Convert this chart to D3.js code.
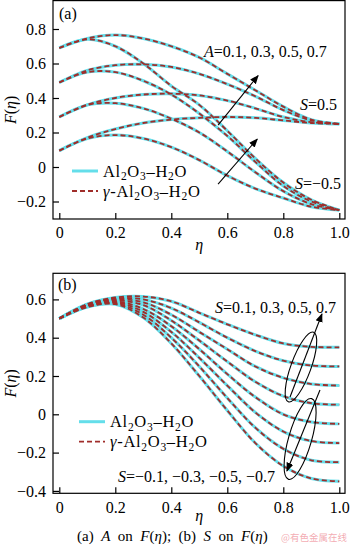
<!DOCTYPE html>
<head>
    <meta charset="UTF-8">
    <script src="https://d3js.org/d3.v7.min.js"></script>
    <style>
        body { margin: 0; background: white; }
        svg { font-family: "Liberation Serif", "DejaVu Serif", serif; }
        .tick text { font-size: 16px; font-family: "Liberation Serif", serif; }
        .frame { fill: none; stroke: black; stroke-width: 1.2px; }
        .cyan { fill: none; stroke: rgb(100, 222, 234); stroke-width: 3px; }
        .red { fill: none; stroke: rgb(160, 45, 42); stroke-width: 1.8px; stroke-dasharray: 5, 3; }
        .note { font-size: 16px; }
        .leg { font-size: 16.5px; letter-spacing: 0.7px; }
        .pre { white-space: pre; }
    </style>
</head>
<body>
    <div id="viz"></div>
    <script>
        // eta grid shared by every curve
        const eta = [0, 0.1, 0.2, 0.3, 0.4, 0.5, 0.6, 0.7, 0.8, 0.9, 1.0];

        // panel (a): A = 0.1, 0.3, 0.5, 0.7
        const aValues = [0.1, 0.3, 0.5, 0.7];
        // S = 0.5
        const aPosS = [
            [0.095, 0.17, 0.22, 0.255, 0.275, 0.285, 0.29, 0.285, 0.27, 0.255, 0.25],
            [0.29, 0.36, 0.40, 0.42, 0.425, 0.415, 0.385, 0.34, 0.29, 0.26, 0.25],
            [0.49, 0.56, 0.59, 0.595, 0.58, 0.54, 0.48, 0.41, 0.33, 0.27, 0.25],
            [0.69, 0.745, 0.765, 0.745, 0.70, 0.635, 0.54, 0.445, 0.35, 0.275, 0.25]
        ];
        // S = -0.5
        const aNegS = [
            [0.095, 0.165, 0.185, 0.165, 0.115, 0.04, -0.05, -0.125, -0.18, -0.23, -0.25],
            [0.29, 0.36, 0.37, 0.34, 0.28, 0.20, 0.09, -0.03, -0.14, -0.215, -0.25],
            [0.49, 0.55, 0.55, 0.50, 0.42, 0.31, 0.18, 0.03, -0.11, -0.20, -0.25],
            [0.69, 0.74, 0.70, 0.60, 0.47, 0.36, 0.21, 0.05, -0.09, -0.19, -0.25]
        ];

        // panel (b): S = 0.7 ... -0.7 (A = 0.5)
        const bValues = [0.7, 0.5, 0.3, 0.1, -0.1, -0.3, -0.5, -0.7];
        const bCurves = [
            [0.5, 0.575, 0.61, 0.615, 0.59, 0.53, 0.47, 0.415, 0.37, 0.352, 0.35],
            [0.5, 0.575, 0.605, 0.60, 0.555, 0.48, 0.40, 0.33, 0.28, 0.255, 0.25],
            [0.5, 0.572, 0.60, 0.585, 0.52, 0.43, 0.34, 0.25, 0.19, 0.158, 0.15],
            [0.5, 0.57, 0.595, 0.57, 0.49, 0.385, 0.275, 0.17, 0.095, 0.058, 0.05],
            [0.5, 0.567, 0.59, 0.55, 0.46, 0.34, 0.21, 0.09, 0.0, -0.04, -0.05],
            [0.5, 0.565, 0.585, 0.535, 0.43, 0.295, 0.15, 0.01, -0.09, -0.14, -0.15],
            [0.5, 0.562, 0.58, 0.52, 0.40, 0.25, 0.085, -0.07, -0.18, -0.24, -0.25],
            [0.5, 0.56, 0.575, 0.505, 0.37, 0.20, 0.02, -0.15, -0.27, -0.335, -0.35]
        ];

        const xTicks = [0, 0.2, 0.4, 0.6, 0.8, 1.0];
        const aYTicks = [-0.2, 0, 0.2, 0.4, 0.6, 0.8];
        const bYTicks = [-0.4, -0.2, 0, 0.2, 0.4, 0.6];

        const width = 350, height = 548;
        const svg = d3.select('#viz').append('svg')
            .attr('width', width)
            .attr('height', height);

        svg.append('defs').append('marker')
            .attr('id', 'head')
            .attr('viewBox', '0 0 10 10')
            .attr('refX', 9).attr('refY', 5)
            .attr('markerWidth', 9).attr('markerHeight', 9)
            .attr('markerUnits', 'userSpaceOnUse')
            .attr('orient', 'auto')
            .append('path')
            .attr('d', 'M0,1 L10,5 L0,9 Z')
            .attr('fill', 'black');

        const fmt = d => d === 0 ? '0' : d3.format('.1f')(d);
        const x = d3.scaleLinear().domain([0, 1]).range([59.3, 339.3]);

        function panel(box, y, yTicks) {
            const g = svg.append('g');
            g.append('g')
                .attr('transform', `translate(0,${box.bottom})`)
                .call(d3.axisBottom(x).tickValues(xTicks).tickFormat(fmt)
                    .tickSizeInner(-6).tickSizeOuter(0).tickPadding(8))
                .call(a => a.select('.domain').remove());
            g.append('g')
                .attr('transform', `translate(${box.left},0)`)
                .call(d3.axisLeft(y).tickValues(yTicks).tickFormat(fmt)
                    .tickSizeInner(-6).tickSizeOuter(0).tickPadding(7))
                .call(a => a.select('.domain').remove());
            g.selectAll('.tick line').attr('stroke-width', 1.2);
            g.append('rect').attr('class', 'frame')
                .attr('x', box.left).attr('y', box.top)
                .attr('width', box.right - box.left)
                .attr('height', box.bottom - box.top);
            return g;
        }

        function drawCurves(g, y, curves) {
            const line = d3.line()
                .x((d, i) => x(eta[i]))
                .y(d => y(d))
                .curve(d3.curveCatmullRom.alpha(0.5));
            // Al2O3-H2O (solid) and gamma-Al2O3-H2O (dashed) overlap in the figure
            g.selectAll('.c' + curves.length).data(curves).enter()
                .append('path').attr('class', 'cyan').attr('d', line);
            g.selectAll('.r' + curves.length).data(curves).enter()
                .append('path').attr('class', 'red').attr('d', line);
        }

        function arrow(g, y, p0, p1) {
            g.append('line')
                .attr('x1', x(p0[0])).attr('y1', y(p0[1]))
                .attr('x2', x(p1[0])).attr('y2', y(p1[1]))
                .attr('stroke', 'black').attr('stroke-width', 1.1)
                .attr('marker-end', 'url(#head)');
        }

        function legend(g, lx, ly) {
            g.append('line').attr('class', 'cyan')
                .attr('x1', lx).attr('x2', lx + 26).attr('y1', ly).attr('y2', ly);
            g.append('line').attr('class', 'red')
                .attr('x1', lx).attr('x2', lx + 26).attr('y1', ly + 20).attr('y2', ly + 20);
            const t1 = g.append('text').attr('class', 'leg').attr('x', lx + 31).attr('y', ly + 5.5);
            const t2 = g.append('text').attr('class', 'leg').attr('x', lx + 31).attr('y', ly + 25.5);
            t2.append('tspan').attr('font-style', 'italic').text('γ');
            t2.append('tspan').text('-');
            [t1, t2].forEach(t => {
                t.append('tspan').text('Al');
                t.append('tspan').attr('font-size', 11.5).attr('dy', 3.5).text('2');
                t.append('tspan').attr('dy', -3.5).text('O');
                t.append('tspan').attr('font-size', 11.5).attr('dy', 3.5).text('3');
                t.append('tspan').attr('dy', -3.5).text('–H');
                t.append('tspan').attr('font-size', 11.5).attr('dy', 3.5).text('2');
                t.append('tspan').attr('dy', -3.5).text('O');
            });
        }

        function axisTitles(g, box, xlabY) {
            g.append('text').attr('class', 'note')
                .attr('transform', `translate(16,${(box.top + box.bottom) / 2}) rotate(-90)`)
                .attr('text-anchor', 'middle')
                .call(t => {
                    t.append('tspan').attr('font-style', 'italic').text('F');
                    t.append('tspan').text('(');
                    t.append('tspan').attr('font-style', 'italic').text('η');
                    t.append('tspan').text(')');
                });
            g.append('text').attr('class', 'note')
                .attr('x', x(0.5)).attr('y', xlabY)
                .attr('text-anchor', 'middle').attr('font-style', 'italic').text('η');
        }

        // ---- panel (a)
        const boxA = { left: 53, right: 345, top: 0.6, bottom: 219 };
        const yA = d3.scaleLinear().domain([-0.2, 0.8]).range([201.5, 29]);
        const gA = panel(boxA, yA, aYTicks);
        drawCurves(gA, yA, aPosS.concat(aNegS));
        arrow(gA, yA, [0.567, 0.243], [0.71, 0.53]);
        arrow(gA, yA, [0.567, -0.099], [0.707, 0.162]);
        gA.append('text').attr('class', 'note').attr('x', 59).attr('y', 19).text('(a)');
        gA.append('text').attr('class', 'note').attr('x', 204).attr('y', 57)
            .call(t => {
                t.append('tspan').attr('font-style', 'italic').text('A');
                t.append('tspan').text('=' + aValues.join(', '));
            });
        gA.append('text').attr('class', 'note').attr('x', 300).attr('y', 110)
            .call(t => { t.append('tspan').attr('font-style', 'italic').text('S'); t.append('tspan').text('=0.5'); });
        gA.append('text').attr('class', 'note').attr('x', 295).attr('y', 189)
            .call(t => { t.append('tspan').attr('font-style', 'italic').text('S'); t.append('tspan').text('=−0.5'); });
        legend(gA, 72, 171);
        axisTitles(gA, boxA, 250);

        // ---- panel (b)
        const boxB = { left: 53, right: 345, top: 273.3, bottom: 493.3 };
        const yB = d3.scaleLinear().domain([-0.4, 0.6]).range([490.9, 299.4]);
        const gB = panel(boxB, yB, bYTicks);
        drawCurves(gB, yB, bCurves);
        gB.append('ellipse').attr('fill', 'none').attr('stroke', 'black').attr('stroke-width', 1.1)
            .attr('rx', 10).attr('ry', 37)
            .attr('transform', `translate(${x(0.863)},${yB(0.247)}) rotate(20)`);
        gB.append('ellipse').attr('fill', 'none').attr('stroke', 'black').attr('stroke-width', 1.1)
            .attr('rx', 11.5).attr('ry', 42)
            .attr('transform', `translate(${x(0.86)},${yB(-0.129)}) rotate(16)`);
        arrow(gB, yB, [0.824, 0.09], [0.938, 0.524]);
        arrow(gB, yB, [0.931, 0.127], [0.813, -0.296]);
        gB.append('text').attr('class', 'note').attr('x', 58).attr('y', 290).text('(b)');
        gB.append('text').attr('class', 'note').attr('x', 215).attr('y', 313)
            .call(t => {
                t.append('tspan').attr('font-style', 'italic').text('S');
                t.append('tspan').text('=' + bValues.filter(v => v > 0).reverse().join(', '));
            });
        gB.append('text').attr('class', 'note').attr('x', 118).attr('y', 482)
            .call(t => {
                t.append('tspan').attr('font-style', 'italic').text('S');
                t.append('tspan').text('=' + bValues.filter(v => v < 0).map(v => '−' + Math.abs(v)).join(', '));
            });
        legend(gB, 79, 421.7);
        axisTitles(gB, boxB, 521);

        // ---- caption
        svg.append('text').attr('class', 'pre').attr('font-size', 15).attr('x', 77).attr('y', 541)
            .call(t => {
                t.append('tspan').text('(a)  ');
                t.append('tspan').attr('font-style', 'italic').text('A');
                t.append('tspan').text('  on  ');
                t.append('tspan').attr('font-style', 'italic').text('F');
                t.append('tspan').text('(');
                t.append('tspan').attr('font-style', 'italic').text('η');
                t.append('tspan').text(');  (b)  ');
                t.append('tspan').attr('font-style', 'italic').text('S');
                t.append('tspan').text('  on  ');
                t.append('tspan').attr('font-style', 'italic').text('F');
                t.append('tspan').text('(');
                t.append('tspan').attr('font-style', 'italic').text('η');
                t.append('tspan').text(')');
            });
        svg.append('text').attr('x', 281).attr('y', 541)
            .attr('font-family', '"Noto Sans CJK SC", sans-serif').attr('font-size', 9.5)
            .attr('fill', 'rgb(240, 150, 160)').attr('fill-opacity', 0.8)
            .text('@有色金属在线');
    </script>
</body>
</html>
